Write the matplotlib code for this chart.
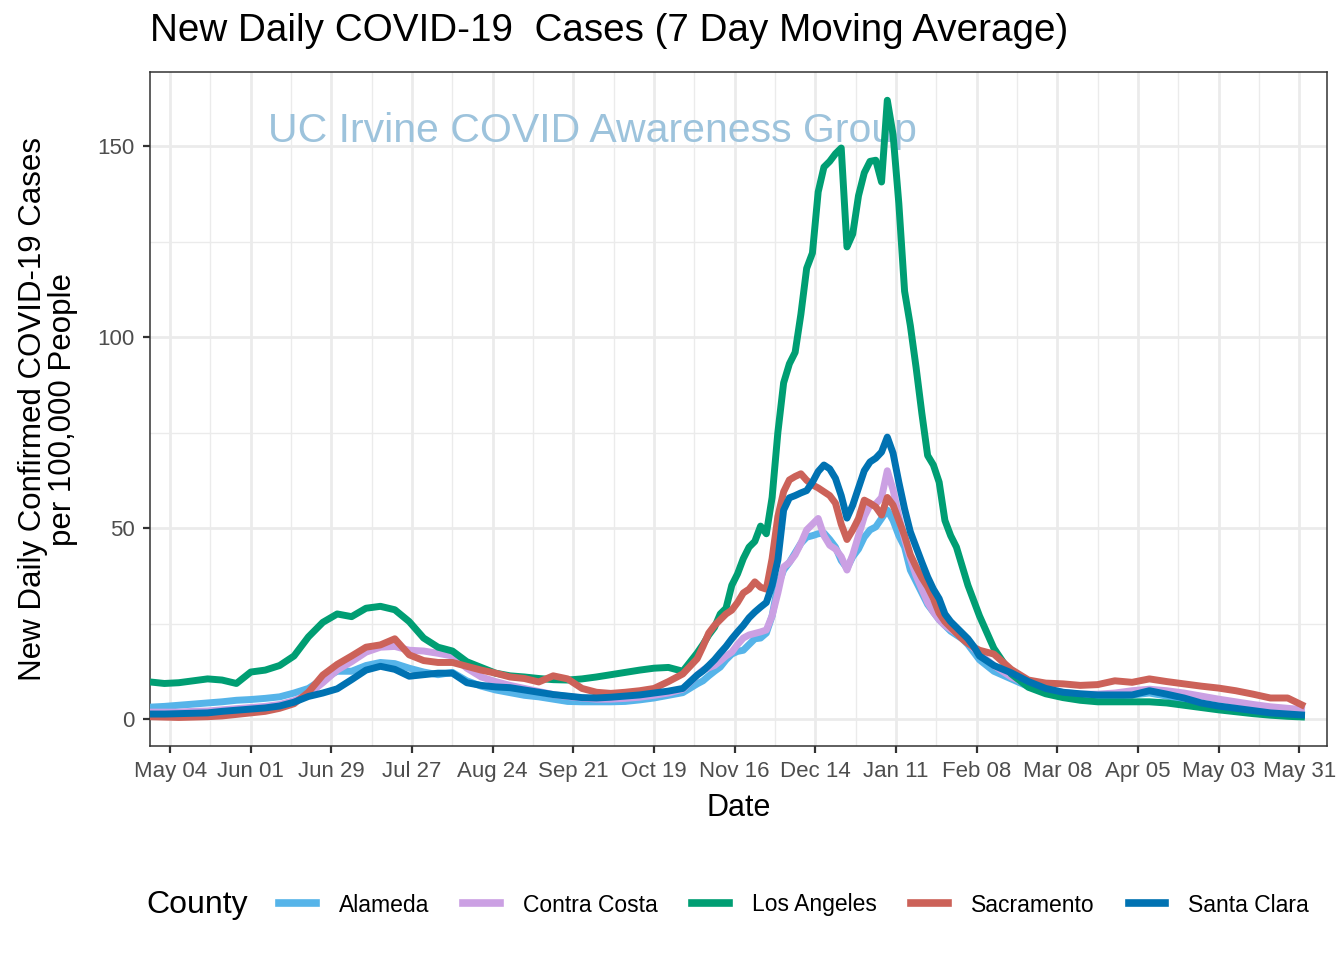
import numpy as np
import pandas as pd
import matplotlib
matplotlib.use("Agg")
import matplotlib.pyplot as plt
import matplotlib.dates as mdates
from matplotlib.lines import Line2D

plt.rcParams['font.family'] = ['Liberation Sans Narrow', 'Liberation Sans', 'DejaVu Sans']

# dates: 5-day steps early, 2-day steps over the winter surge, 6-day steps after
dates = pd.DatetimeIndex(list(pd.date_range('2020-04-27', periods=39, freq='5D'))
                         + list(pd.date_range('2020-11-05', periods=49, freq='2D'))
                         + list(pd.date_range('2021-02-14', periods=19, freq='6D')))

alameda = [3.1, 3.3, 3.6, 3.9, 4.2, 4.5, 4.9, 5.1, 5.4, 5.8, 6.8, 8.0, 10.5, 12.5, 12.5, 14.0, 14.8, 14.5, 13.3, 12.3,
           11.6, 12.2, 10.0, 8.6, 7.6, 6.9, 6.2, 5.8, 5.2, 4.6, 4.5, 4.5, 4.5, 4.6, 5.0, 5.5, 6.2, 6.9, 9.2,
           10, 11.3, 12.5, 13.6, 15.5, 17, 17.7, 18, 19.5, 21, 21.2, 22.5, 27, 35, 39, 41, 43.5, 46, 47.6, 48,
           48.5, 48.7, 47, 45, 41.5, 39.5, 42.5, 44.5, 47.6, 49.5, 50.3, 52.5, 54.7, 52, 48, 45, 39, 36, 33, 30,
           28, 26, 24.5, 23, 22, 21, 19.5, 17.5, 15.5,
           12.5, 10.5, 8.5, 7.2, 6.5, 5.9, 5.9, 6.0, 6.3, 6.8, 6.0, 5.0, 4.0, 3.3, 2.7, 2.1, 1.6, 1.2, 1.0]

contra_costa = [1.8, 1.8, 1.8, 2.0, 2.1, 2.4, 2.7, 3.0, 3.3, 3.8, 4.8, 6.5, 9.5, 12.8, 15.0, 17.5, 18.8, 19.0, 18.0, 17.8,
                17.2, 16.5, 13.3, 11.0, 9.8, 8.8, 8.0, 7.2, 6.4, 5.9, 5.5, 5.2, 5.2, 5.4, 5.7, 6.2, 6.8, 7.8, 11.5,
                12.8, 13.4, 14.0, 15.2, 16.5, 17.5, 19.5, 21.2, 22.0, 22.4, 22.8, 23.3, 27, 33, 39.8, 41, 43, 46, 49.5, 51,
                52.5, 48, 45.5, 44.5, 42.5, 39, 43, 48, 53, 56, 56.3, 58, 65, 60, 53, 47, 42, 37.5, 34, 30.5,
                28, 26, 24.5, 23.5, 22.5, 21.5, 20, 18.5, 17,
                14.0, 11.0, 9.0, 7.8, 7.0, 6.5, 6.5, 6.8, 7.4, 7.8, 7.4, 6.8, 6.0, 5.2, 4.5, 3.8, 3.2, 2.8, 2.4]

los_angeles = [9.7, 9.3, 9.5, 10.0, 10.5, 10.2, 9.3, 12.3, 12.8, 14.0, 16.5, 21.5, 25.3, 27.5, 26.8, 29.0, 29.5, 28.6, 25.5, 21.2,
               18.8, 17.8, 15.0, 13.5, 12.0, 11.3, 11.0, 10.6, 10.3, 10.2, 10.5, 11.0, 11.6, 12.2, 12.8, 13.3, 13.5, 12.5, 17.3,
               19.5, 22, 24, 27.5, 29, 35, 38, 42, 45, 46.5, 50.5, 48.5, 58, 75, 88, 93, 96, 106, 118, 122,
               138, 144.5, 146, 148, 149.5, 123.6, 127, 137, 143, 146, 146.3, 140.6, 162, 153, 135, 112, 103, 92, 80, 69,
               66.5, 62, 52, 48, 45, 40, 35, 31, 27,
               18.5, 11.8, 8.3, 6.6, 5.6, 4.9, 4.5, 4.5, 4.5, 4.5, 4.2, 3.6, 3.0, 2.4, 1.9, 1.4, 1.0, 0.7, 0.5]

sacramento = [0.6, 0.5, 0.4, 0.5, 0.6, 0.8, 1.2, 1.6, 2.0, 2.8, 4.0, 7.0, 11.5, 14.3, 16.5, 18.8, 19.4, 21.0, 16.8, 15.3,
              14.8, 14.8, 13.8, 12.8, 12.0, 11.0, 10.6, 9.7, 11.3, 10.5, 8.0, 7.0, 6.7, 7.0, 7.4, 8.0, 9.8, 11.8, 15.8,
              19.0, 22.5, 24.5, 26, 27.5, 28.5, 30.5, 33, 34, 35.9, 34.5, 34, 42, 53, 59.5, 62.6, 63.5, 64.2, 62.5, 61.3,
              60.5, 59.5, 58.5, 56.5, 51, 47, 49.5, 52.5, 57.3, 56.5, 55.5, 53.4, 58, 56, 52, 48, 43, 39.8, 37, 34.6,
              31.5, 27.7, 25.5, 24, 22.5, 21, 19.8, 18.8, 18,
              17.0, 13.0, 10.2, 9.4, 9.2, 8.8, 9.0, 10.0, 9.6, 10.5, 9.8, 9.2, 8.6, 8.1, 7.4, 6.5, 5.5, 5.5, 3.3]

santa_clara = [1.3, 1.3, 1.4, 1.5, 1.6, 2.0, 2.3, 2.6, 2.9, 3.4, 4.4, 5.9, 6.8, 7.9, 10.3, 12.8, 13.8, 13.0, 11.2, 11.6,
               12.0, 12.0, 9.5, 8.8, 8.4, 8.2, 7.6, 7.0, 6.4, 6.0, 5.6, 5.5, 5.7, 6.0, 6.3, 6.8, 7.3, 8.0, 11.5,
               12.6, 14, 15.5, 17.3, 19, 21, 22.8, 24.5, 26.5, 28, 29.3, 30.5, 35, 41.6, 54.7, 57.9, 58.5, 59.2, 59.8, 62,
               64.8, 66.5, 65.5, 63, 58.5, 52.6, 56, 60.5, 65, 67.3, 68.3, 69.9, 73.8, 69.6, 62, 55, 49, 45, 41, 37.2,
               34, 31.5, 27.5, 25.5, 24, 22.5, 21, 19, 16.5,
               14, 12.1, 9.8, 8.0, 7.0, 6.6, 6.3, 6.3, 6.3, 7.4, 6.5, 5.5, 4.2, 3.4, 2.8, 2.2, 1.6, 1.3, 1.0]

counties = ['Alameda', 'Contra Costa', 'Los Angeles', 'Sacramento', 'Santa Clara']
series = [alameda, contra_costa, los_angeles, sacramento, santa_clara]
colors = ['#56B4E9', '#CBA0E3', '#009E73', '#CC6259', '#0072B2']

major_ticks = pd.date_range('2020-05-04', '2021-05-31', freq='28D')
minor_ticks = pd.date_range('2020-05-18', '2021-05-17', freq='28D')

fig = plt.figure(figsize=(13.44, 9.6), dpi=100)
ax = fig.add_axes([150/1344, 1 - 746/960, 1177/1344, 674/960])

for name, vals, col in zip(counties, series, colors):
    ax.plot(dates, vals, color=col, lw=5.0, solid_capstyle='butt', solid_joinstyle='round', label=name, zorder=3)

ax.set_xticks(major_ticks)
ax.set_xticks(minor_ticks, minor=True)
ax.xaxis.set_major_formatter(mdates.DateFormatter('%b %d'))
ax.set_yticks([0, 50, 100, 150])
ax.set_yticks([25, 75, 125], minor=True)
ax.set_xlim(pd.Timestamp('2020-04-27'), pd.Timestamp('2021-06-09 16:00'))
ax.set_ylim(-7.07, 169.4)

ax.grid(which='major', color='#EBEBEB', lw=2.0, zorder=0)
ax.grid(which='minor', color='#EBEBEB', lw=1.0, zorder=0)
ax.set_axisbelow(True)
for s in ax.spines.values():
    s.set_color('#333333')
    s.set_linewidth(1.1)
ax.tick_params(which='major', length=5, width=1.6, color='#333333', labelsize=16, labelcolor='#4D4D4D', pad=6)
ax.tick_params(which='minor', length=0)

ax.text(pd.Timestamp('2020-06-07'), 154, 'UC Irvine COVID Awareness Group', fontsize=29.5,
        color='#9DC3DC', family=['Liberation Sans', 'DejaVu Sans'], ha='left', va='center', zorder=2)

ax.set_xlabel('Date', fontsize=22, labelpad=8)
ax.set_ylabel('New Daily Confirmed COVID-19 Cases\nper 100,000 People', fontsize=22.5, labelpad=14, linespacing=1.0)
fig.text(150/1344, 1 - 31/960, 'New Daily COVID-19  Cases (7 Day Moving Average)', fontsize=27.8,
         ha='left', va='center')

handles = [Line2D([], [], color=c, lw=5.5) for c in colors]
fig.text(146/1344, 1 - 905/960, 'County', fontsize=23, ha='left', va='center')
fig.legend(handles, counties, loc='center', bbox_to_anchor=(794/1344, 1 - 905/960), ncol=5, frameon=False,
           fontsize=16.5, handlelength=1.6, handletextpad=1.0, columnspacing=1.5)

fig.savefig('out.png', dpi=100)
